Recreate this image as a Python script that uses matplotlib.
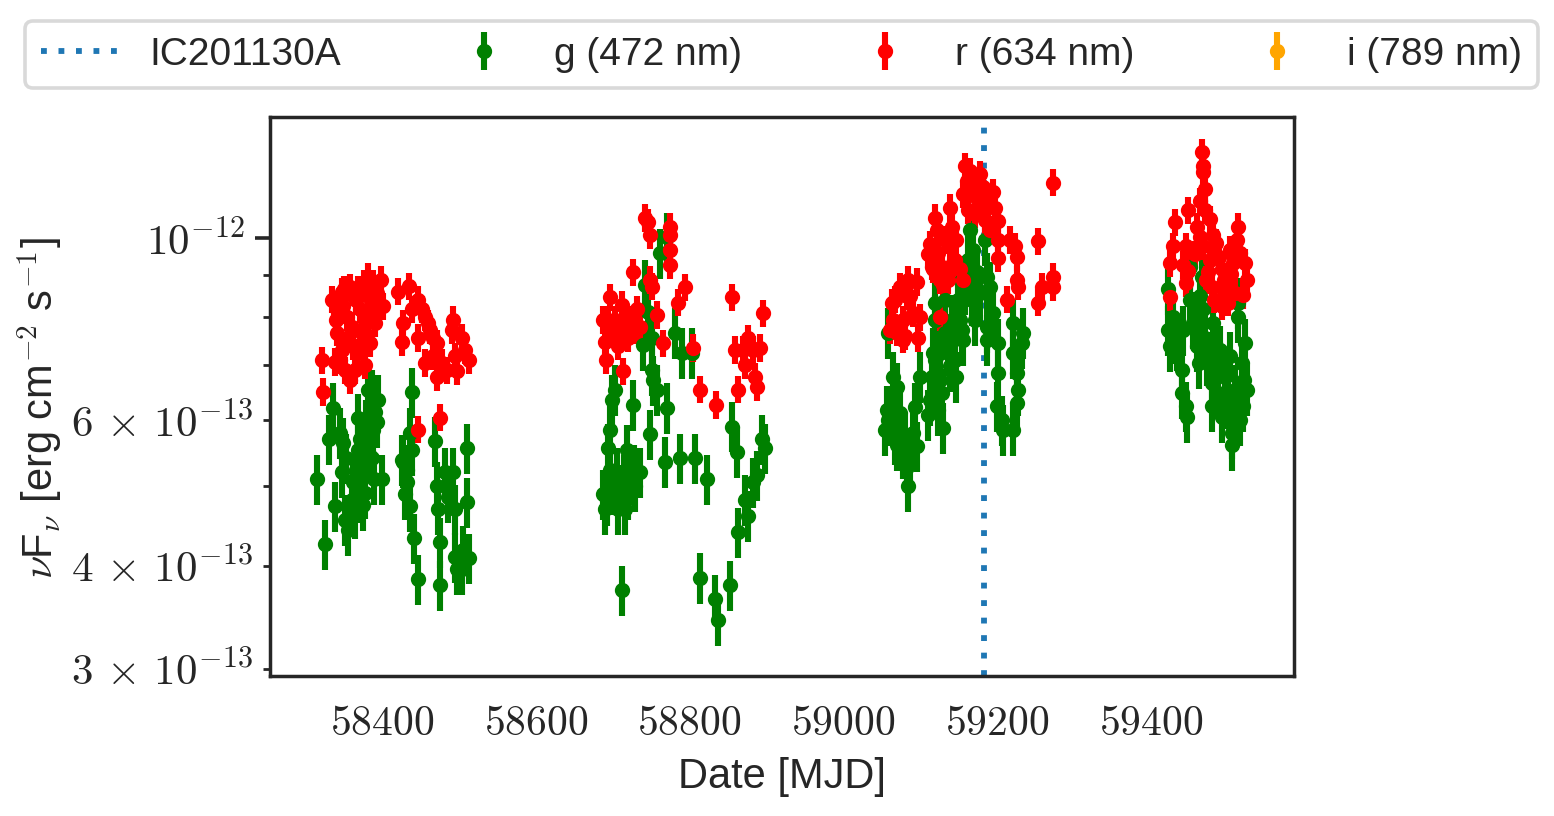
import numpy as np
import matplotlib
matplotlib.use('Agg')
import matplotlib.pyplot as plt
from matplotlib.ticker import FixedLocator, FixedFormatter

plt.rcParams['font.family'] = ['Liberation Sans', 'DejaVu Sans']
plt.rcParams['mathtext.fontset'] = 'cm'

# ---------------- data ----------------
neutrino_name = 'IC201130A'
neutrino_mjd = 59183

band_labels = ['g (472 nm)', 'r (634 nm)', 'i (789 nm)']
band_colors = ['green', 'red', 'orange']

# g band: MJD and nuF_nu in units of 1e-13 erg cm^-2 s^-1
g_mjd = [
    # season 2018
    58315, 58325, 58331, 58336, 58339, 58345, 58348, 58352, 58349, 58353, 58362, 58365,
    58369, 58374, 58376, 58381, 58384, 58388, 58391, 58393, 58378, 58371, 58387, 58400,
    58366, 58371, 58379, 58384, 58361, 58356, 58395, 58387, 58375, 58369, 58389,
    58426, 58430, 58439, 58436, 58439, 58432, 58442, 58446, 58427, 58432, 58436,
    58469, 58471, 58473, 58475, 58475, 58482, 58486, 58492, 58495, 58495, 58497, 58504,
    58505, 58510, 58510, 58513,
    # season 2019
    58687, 58690, 58694, 58696, 58699, 58703, 58706, 58709, 58712, 58716, 58718, 58722,
    58726, 58729, 58735, 58739, 58742, 58746, 58748, 58751, 58751, 58752, 58757, 58761,
    58768, 58771, 58771, 58781, 58788, 58790, 58803, 58807, 58814, 58823, 58833, 58837,
    58853, 58855, 58862, 58863, 58872, 58876, 58882, 58887, 58894, 58898,
    58693, 58700, 58707, 58720, 58728, 58696, 58715,
    # season 2020
    59058, 59065, 59070, 59058, 59067, 59074, 59078, 59083, 59084, 59090, 59093, 59096,
    59100, 59110, 59115, 59116, 59119, 59119, 59126, 59128, 59130, 59132, 59139, 59142,
    59147, 59152, 59155, 59155, 59161, 59165, 59169, 59174, 59178, 59184, 59187, 59191,
    59187, 59187, 59195, 59201, 59201, 59200, 59206, 59208, 59220, 59220, 59220, 59226,
    59227, 59226, 59234, 59232,
    59119, 59126, 59132, 59136, 59141, 59145, 59149, 59154, 59158, 59162, 59167, 59171,
    59113, 59123, 59054, 59063, 59070, 59080, 59087, 59057,
    # season 2021
    59422, 59425, 59422, 59429, 59431, 59440, 59440, 59445, 59442, 59451, 59455, 59460,
    59464, 59466, 59468, 59462, 59470, 59477, 59479, 59479, 59483, 59485, 59487, 59492,
    59496, 59500, 59505, 59503, 59509, 59513, 59513, 59518, 59522, 59525, 59519, 59447,
    59505, 59451, 59457, 59473, 59481, 59490, 59498, 59508, 59516, 59521, 59434,
]
g_flux = [
    5.09, 4.25, 5.69, 6.22, 4.72, 5.80, 5.20, 4.55, 5.64, 5.40, 5.05, 4.64,
    6.04, 5.64, 5.23, 6.54, 6.05, 5.85, 6.15, 5.97, 4.90, 4.85, 5.40, 5.09,
    5.23, 5.69, 5.93, 5.44, 4.81, 4.42, 6.36, 6.45, 4.74, 5.53, 5.09,
    5.38, 4.88, 6.50, 5.80, 5.53, 5.23, 4.32, 3.85, 5.34, 5.05, 4.72,
    5.67, 4.99, 4.68, 4.27, 3.79, 5.19, 4.85, 5.19, 4.68, 4.10, 3.96, 3.96,
    4.18, 5.56, 4.78, 4.09,
    4.88, 4.68, 5.56, 5.85, 6.36, 6.54, 5.19, 4.95, 3.74, 4.68, 5.53, 5.09,
    6.27, 5.00, 5.19, 7.41, 8.77, 8.13, 5.77, 7.56, 6.91, 6.72, 6.54, 9.58,
    5.35, 6.22, 10.02, 7.67, 5.40, 7.25, 7.25, 5.40, 3.87, 5.09, 3.64, 3.44,
    3.79, 5.90, 5.50, 4.39, 4.81, 4.60, 5.05, 5.15, 5.69, 5.56,
    4.81, 4.95, 4.68, 4.88, 5.23, 5.23, 5.09,
    7.67, 6.78, 6.58, 6.01, 5.69, 6.13, 5.48, 5.27, 4.99, 5.80, 6.23, 5.58,
    6.78, 6.10, 6.78, 7.25, 7.95, 8.34, 7.25, 6.48, 5.88, 7.67, 6.98, 7.52,
    6.78, 7.95, 7.52, 8.41, 8.89, 10.22, 9.67, 9.07, 8.57, 9.94, 8.96, 8.72,
    7.80, 7.52, 8.10, 7.45, 6.85, 6.24, 6.01, 5.85, 7.87, 7.25, 5.85, 6.85,
    6.54, 6.30, 7.67, 7.45,
    7.11, 6.72, 8.41, 7.31, 7.95, 7.11, 8.41, 7.73, 8.65, 9.40, 8.41, 7.95,
    6.36, 6.18, 5.85, 6.10, 5.60, 5.69, 5.38, 6.18,
    8.65, 7.38, 7.73, 8.00, 7.56, 6.91, 6.48, 6.24, 7.73, 9.22, 7.87, 7.38,
    8.49, 8.96, 8.18, 7.05, 7.56, 7.18, 6.67, 6.24, 7.45, 6.91, 6.48, 6.06,
    6.78, 6.30, 5.80, 7.18, 6.54, 8.34, 8.00, 7.05, 7.45, 6.54, 6.24, 6.06,
    5.61, 8.41, 8.03, 7.11, 7.87, 7.31, 6.44, 6.18, 6.01, 6.72, 7.41,
]

# r band
r_mjd = [
    # season 2018
    58322, 58323, 58335, 58348, 58358, 58381, 58388, 58393, 58401, 58341, 58339, 58352,
    58365, 58378, 58384, 58354, 58362, 58371, 58374, 58367, 58348, 58349, 58361, 58381,
    58387, 58369, 58343, 58356, 58376, 58391,
    58340, 58350, 58366, 58377, 58382, 58345, 58358, 58396, 58399,
    58421, 58426, 58435, 58427, 58439, 58447, 58452, 58456, 58460, 58462, 58466, 58471,
    58456, 58466, 58471, 58475, 58446, 58446, 58478, 58484, 58491, 58492, 58495, 58497,
    58504, 58508, 58513,
    # season 2019
    58690, 58694, 58696, 58700, 58707, 58712, 58713, 58716, 58720, 58726, 58729, 58735,
    58742, 58746, 58748, 58748, 58751, 58757, 58765, 58774, 58774, 58774, 58774, 58785,
    58794, 58804, 58814, 58834, 58855, 58859, 58863, 58869, 58872, 58876, 58882, 58885,
    58887, 58891, 58895,
    58687, 58703, 58709, 58722, 58732, 58691,
    # season 2020
    59063, 59065, 59070, 59074, 59078, 59083, 59084, 59090, 59096, 59097, 59100, 59113,
    59115, 59119, 59122, 59123, 59126, 59128, 59126, 59130, 59139, 59141, 59139, 59142,
    59147, 59152, 59155, 59158, 59161, 59162, 59165, 59169, 59174, 59178, 59182, 59188,
    59195, 59197, 59201, 59201, 59201, 59213, 59217, 59223, 59226, 59226, 59227, 59253,
    59253, 59258, 59273, 59273, 59273,
    59067, 59077, 59087, 59080, 59061, 59110, 59132, 59145, 59117, 59136,
    59155, 59171, 59184, 59191, 59162, 59178,
    # season 2021
    59466, 59468, 59468, 59470, 59448, 59464, 59470, 59431, 59460, 59477, 59480, 59513,
    59429, 59425, 59445, 59442, 59448, 59445, 59464, 59468, 59477, 59474, 59479, 59485,
    59489, 59492, 59493, 59492, 59503, 59507, 59512, 59516, 59522, 59525, 59509, 59500,
    59425, 59457, 59471, 59482, 59495, 59504, 59519,
]
r_flux = [
    7.10, 6.50, 8.41, 8.60, 8.70, 8.96, 8.80, 8.57, 8.25, 7.67, 7.07, 6.91,
    6.91, 7.00, 7.45, 8.00, 7.38, 8.18, 7.67, 7.25, 7.31, 8.25, 7.80, 8.49,
    8.18, 8.65, 8.10, 7.56, 7.38, 7.87,
    7.95, 8.65, 8.41, 8.80, 7.99, 7.11, 6.72, 8.29, 8.89,
    8.60, 7.47, 8.73, 7.87, 8.18, 8.41, 8.18, 8.00, 7.87, 7.73, 7.56, 7.45,
    7.05, 7.18, 6.78, 6.05, 5.85, 7.56, 7.05, 6.91, 7.73, 7.95, 7.18, 6.88,
    7.56, 7.31, 7.10,
    7.47, 7.95, 8.46, 7.67, 7.38, 8.29, 6.88, 7.87, 7.56, 9.07, 7.73, 7.80,
    10.57, 10.43, 10.08, 8.89, 8.72, 8.06, 7.45, 10.31, 10.08, 9.67, 9.27, 8.34,
    8.70, 7.35, 6.54, 6.27, 8.46, 7.31, 6.54, 7.31, 7.01, 7.55, 7.31, 6.78,
    6.58, 7.35, 8.10,
    7.95, 7.95, 7.63, 7.95, 8.18, 7.11,
    8.34, 7.95, 7.67, 8.72, 7.52, 8.49, 8.89, 8.10, 8.84, 7.56, 8.00, 9.81,
    9.22, 10.57, 10.22, 9.58, 8.89, 9.22, 8.00, 8.77, 10.87, 10.31, 9.76, 9.32,
    9.94, 9.15, 8.89, 12.20, 11.70, 11.34, 12.03, 11.60, 11.18, 11.93, 11.53, 11.02,
    11.34, 10.87, 10.46, 9.94, 9.45, 8.41, 9.94, 9.76, 9.48, 8.89, 8.72, 9.89,
    8.34, 8.72, 11.66, 8.96, 8.70,
    8.41, 7.95, 8.49, 7.60, 7.73, 9.54, 9.94, 9.40, 9.15, 8.89,
    11.30, 10.67, 10.50, 10.22, 10.80, 10.98,
    12.70, 12.20, 12.00, 11.44, 10.80, 11.06, 10.80, 10.43, 10.31, 10.52, 10.08, 10.31,
    9.76, 9.32, 9.76, 9.27, 9.10, 8.80, 10.02, 9.76, 9.40, 9.07, 8.72, 9.86,
    9.48, 9.15, 8.65, 8.25, 9.67, 9.32, 9.94, 9.58, 9.32, 8.89, 8.57, 8.34,
    8.46, 9.54, 8.89, 8.41, 8.89, 9.02, 8.52,
]

# i band: no detections in this window (legend entry only)
i_mjd = []
i_flux = []

# typical relative flux uncertainties
g_relerr = 0.07
r_relerr = 0.038

x_ticks = [58400, 58600, 58800, 59000, 59200, 59400]
y_major = [1e-12]
y_major_labels = [r'$10^{-12}$']
y_minor = [3e-13, 4e-13, 5e-13, 6e-13, 7e-13, 8e-13, 9e-13]
y_minor_labels = [r'$3\,\times\,10^{-13}$', r'$4\,\times\,10^{-13}$', '',
                  r'$6\,\times\,10^{-13}$', '', '', '']

# ---------------- plot ----------------
dark = '#262626'
fig = plt.figure(figsize=(7.77, 4.08), dpi=200)
ax = fig.add_axes([0.1737, 0.1716, 0.659, 0.685])

ax.axvline(neutrino_mjd, color='#1f77b4', ls=(0, (1, 2)), lw=2.1, label=neutrino_name)

g = np.array(g_flux) * 1e-13
r = np.array(r_flux) * 1e-13
ek = dict(fmt='o', ms=4.5, elinewidth=2.2, capsize=0)
ax.errorbar(g_mjd, g, yerr=g * g_relerr, color=band_colors[0], label=band_labels[0], **ek)
ax.errorbar(r_mjd, r, yerr=r * r_relerr, color=band_colors[1], label=band_labels[1], **ek)
ax.errorbar([np.nan], [np.nan], yerr=[np.nan], color=band_colors[2], label=band_labels[2], **ek)

ax.set_yscale('log')
ax.set_xlim(58254, 59586)
ax.set_ylim(2.94e-13, 1.40e-12)

ax.xaxis.set_major_locator(FixedLocator(x_ticks))
ax.xaxis.set_major_formatter(FixedFormatter([r'$%d$' % t for t in x_ticks]))
ax.yaxis.set_major_locator(FixedLocator(y_major))
ax.yaxis.set_major_formatter(FixedFormatter(y_major_labels))
ax.yaxis.set_minor_locator(FixedLocator(y_minor))
ax.yaxis.set_minor_formatter(FixedFormatter(y_minor_labels))

ax.tick_params(axis='x', which='both', length=0, pad=10, labelsize=15, colors=dark)
ax.tick_params(axis='y', which='major', length=5.4, width=1.3, pad=3.5, labelsize=15.5, colors=dark)
ax.tick_params(axis='y', which='minor', length=2.6, width=1.0, pad=3.5, labelsize=15.5, colors=dark)
for s in ax.spines.values():
    s.set_linewidth(1.25)
    s.set_color(dark)

ax.set_xlabel('Date [MJD]', fontsize=15, color=dark)
ax.xaxis.set_label_coords(0.5, -0.145)
ax.set_ylabel(r'$\nu$F$_\nu$ [erg cm$^{-2}$ s$^{-1}$]', fontsize=15, color=dark)
ax.yaxis.set_label_coords(-0.2, 0.48)

leg = fig.legend(loc='lower left', bbox_to_anchor=(0.0161, 0.892, 0.9736, 0.091),
                 mode='expand', ncol=4, borderaxespad=0, fontsize=14,
                 frameon=True, fancybox=True, edgecolor='#d0d0d0')
leg.get_frame().set_linewidth(1.3)
for t in leg.get_texts():
    t.set_color(dark)

fig.savefig('out.png', dpi=200)
